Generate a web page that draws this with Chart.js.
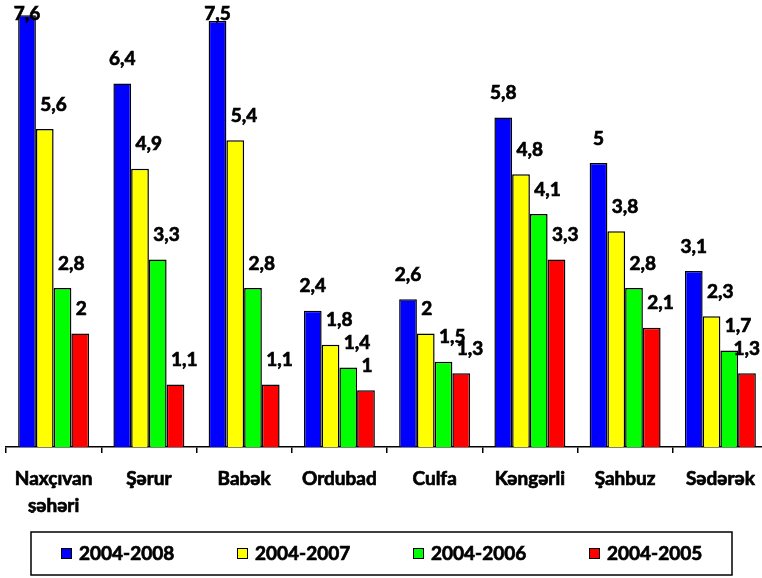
<!DOCTYPE html>
<html>
<head>
<meta charset="utf-8">
<script src="https://cdn.jsdelivr.net/npm/chart.js@4"></script>
<style>
  html, body { margin: 0; padding: 0; background: #fff; overflow: hidden; }
  #wrap { width: 770px; height: 578px; position: relative; }
</style>
</head>
<body>
<div id="wrap"><canvas id="c"></canvas></div>
<script>
const categories = [['Naxçıvan', 'şəhəri'], 'Şərur', 'Babək', 'Ordubad', 'Culfa', 'Kəngərli', 'Şahbuz', 'Sədərək'];
const seriesNames = ['2004-2008', '2004-2007', '2004-2006', '2004-2005'];
const s2004_2008 = [7.6, 6.4, 7.5, 2.4, 2.6, 5.8, 5.0, 3.1];
const s2004_2007 = [5.6, 4.9, 5.4, 1.8, 2.0, 4.8, 3.8, 2.3];
const s2004_2006 = [2.8, 3.3, 2.8, 1.4, 1.5, 4.1, 2.8, 1.7];
const s2004_2005 = [2.0, 1.1, 1.1, 1.0, 1.3, 3.3, 2.1, 1.3];
const seriesColors = ['#0000FF', '#FFFF00', '#00FF00', '#FF0000'];

const FONT = 'Lato, "Open Sans", sans-serif';
const STROKE = 0.7;

function boldText(ctx, txt, x, y) {
  ctx.fillText(txt, x, y);
  ctx.lineWidth = STROKE;
  ctx.strokeStyle = '#000';
  ctx.strokeText(txt, x, y);
}

const labelPlugin = {
  id: 'valueLabels',
  afterDatasetsDraw(chart) {
    const ctx = chart.ctx;
    ctx.save();
    ctx.font = 'bold 19px ' + FONT;
    ctx.fillStyle = '#000';
    ctx.textBaseline = 'middle';
    ctx.textAlign = 'left';
    chart.data.datasets.forEach((ds, di) => {
      const meta = chart.getDatasetMeta(di);
      meta.data.forEach((el, i) => {
        const txt = String(ds.data[i]).replace('.', ',');
        const w = ctx.measureText(txt).width;
        const y = Math.max(el.y - 24.5, 14);
        let x = di === 0 ? el.x - w / 2 : el.x - 4.5;
        x = Math.min(x, 760 - w);
        boldText(ctx, txt, x, y);
      });
    });
    ctx.restore();
  }
};

const legendPlugin = {
  id: 'boxLegend',
  afterDraw(chart) {
    const ctx = chart.ctx;
    ctx.save();
    ctx.strokeStyle = '#000';
    ctx.lineWidth = 1.5;
    ctx.strokeRect(31, 532, 701, 43);
    ctx.font = 'bold 19px ' + FONT;
    ctx.textBaseline = 'middle';
    ctx.textAlign = 'left';
    chart.data.datasets.forEach((ds, i) => {
      const x = 61 + 176 * i;
      ctx.fillStyle = ds.backgroundColor;
      ctx.fillRect(x, 548, 10, 10);
      ctx.lineWidth = 1;
      ctx.strokeStyle = '#000';
      ctx.strokeRect(x + 0.5, 548.5, 10, 10);
      ctx.fillStyle = '#000';
      boldText(ctx, ds.label, x + 18, 553.5);
    });
    ctx.restore();
  }
};

const allSeries = [s2004_2008, s2004_2007, s2004_2006, s2004_2005];

new Chart(document.getElementById('c'), {
  type: 'bar',
  data: {
    labels: categories,
    datasets: allSeries.map((d, i) => ({
      label: seriesNames[i],
      data: d,
      backgroundColor: seriesColors[i],
      borderColor: '#000',
      borderWidth: 1.5,
      categoryPercentage: 0.745,
      barPercentage: 1.0
    }))
  },
  options: {
    responsive: true,
    maintainAspectRatio: false,
    animation: false,
    layout: { padding: { top: 0, left: 6, right: 2, bottom: 65 } },
    plugins: { legend: { display: false }, tooltip: { enabled: false } },
    scales: {
      y: {
        display: false,
        min: 0,
        max: 447 / 56.8
      },
      x: {
        grid: {
          display: true,
          drawOnChartArea: false,
          drawTicks: true,
          tickLength: 6,
          color: '#000',
          lineWidth: 1.5,
          offset: true
        },
        border: { display: true, color: '#000', width: 1.5 },
        ticks: {
          color: '#000',
          font: { family: FONT, size: 19, weight: 'bold', lineHeight: 1.45 },
          textStrokeColor: '#000',
          textStrokeWidth: STROKE,
          padding: 12,
          maxRotation: 0,
          autoSkip: false
        },
        afterFit(scale) { scale.height = 578 - 65 - 447; }
      }
    }
  },
  plugins: [labelPlugin, legendPlugin]
});
</script>
</body>
</html>
